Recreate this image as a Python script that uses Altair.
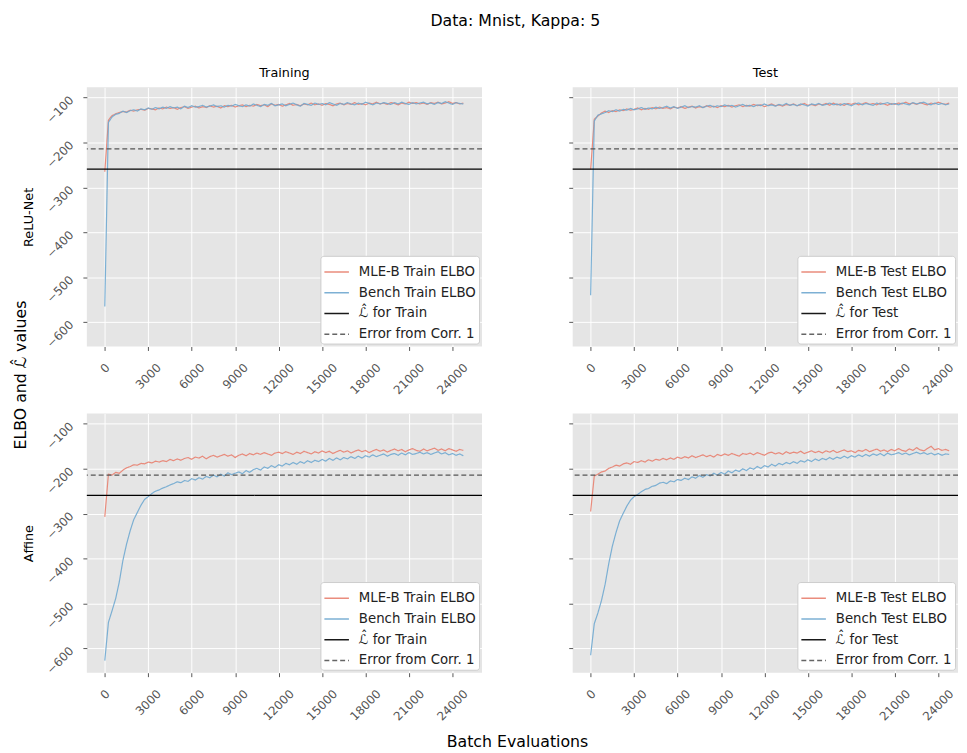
import altair as alt
import pandas as pd

# ---------------- data ----------------
batches = list(range(0, 25000, 250))  # evaluation points 0 .. 24750

relu_train_mle = [-265, -150, -140, -136, -133, -131, -132, -128, -130, -127,
                  -126, -128, -124, -125, -127, -123, -125, -121, -124, -122,
                  -126, -122, -120, -124, -121, -119, -123, -120, -122, -118,
                  -121, -119, -123, -118, -120, -117, -121, -118, -116, -120,
                  -117, -119, -115, -118, -116, -120, -114, -117, -115, -119,
                  -116, -113, -117, -115, -118, -114, -116, -112, -116, -114,
                  -117, -113, -115, -118, -114, -112, -116, -113, -115, -111,
                  -115, -113, -116, -112, -114, -110, -114, -112, -115, -111,
                  -113, -116, -112, -114, -110, -113, -111, -114, -112, -115,
                  -111, -113, -110, -114, -112, -109, -113, -111, -114, -112]
relu_train_bench = [-565, -155, -143, -137, -135, -130, -133, -129, -127, -130,
                    -125, -127, -123, -126, -122, -125, -121, -124, -120, -123,
                    -121, -125, -119, -122, -118, -121, -120, -117, -121, -119,
                    -116, -120, -118, -121, -117, -119, -115, -118, -120, -116,
                    -119, -114, -117, -120, -115, -117, -113, -118, -116, -114,
                    -118, -115, -112, -116, -119, -113, -115, -117, -112, -115,
                    -113, -116, -111, -114, -117, -113, -115, -111, -114, -116,
                    -112, -115, -110, -113, -116, -112, -114, -111, -113, -115,
                    -111, -114, -110, -113, -115, -111, -114, -112, -110, -114,
                    -112, -115, -111, -113, -109, -112, -115, -111, -113, -114]
relu_test_mle = [-260, -148, -141, -134, -130, -133, -129, -131, -127, -129,
                 -125, -128, -126, -123, -127, -124, -126, -122, -125, -121,
                 -124, -122, -125, -121, -123, -120, -124, -121, -119, -123,
                 -120, -122, -118, -121, -119, -122, -118, -120, -117, -121,
                 -118, -116, -120, -117, -119, -115, -118, -116, -120, -117,
                 -114, -118, -116, -119, -115, -117, -114, -118, -116, -113,
                 -117, -115, -118, -114, -116, -113, -117, -112, -116, -114,
                 -117, -113, -115, -112, -116, -114, -111, -115, -113, -116,
                 -112, -114, -117, -113, -115, -112, -114, -110, -114, -112,
                 -115, -111, -114, -116, -112, -114, -110, -113, -115, -112]
relu_test_bench = [-540, -152, -139, -136, -133, -129, -131, -127, -130, -126,
                   -128, -124, -127, -125, -122, -126, -123, -125, -121, -124,
                   -122, -119, -123, -120, -124, -121, -118, -122, -120, -121,
                   -118, -122, -119, -117, -121, -118, -120, -116, -119, -117,
                   -121, -118, -115, -119, -117, -120, -116, -118, -114, -118,
                   -116, -119, -115, -117, -113, -117, -115, -118, -114, -116,
                   -119, -114, -116, -113, -117, -115, -112, -116, -114, -117,
                   -113, -115, -118, -114, -112, -116, -113, -115, -117, -112,
                   -115, -113, -111, -115, -113, -116, -112, -114, -116, -111,
                   -114, -112, -110, -114, -116, -112, -115, -113, -116, -114]
affine_train_mle = [-307, -212, -214, -208, -210, -203, -198, -195, -191, -192,
                    -188, -189, -185, -187, -183, -185, -182, -184, -179, -182,
                    -178, -181, -177, -175, -179, -174, -176, -172, -178, -173,
                    -170, -174, -171, -168, -172, -169, -175, -170, -167, -171,
                    -166, -169, -165, -168, -164, -167, -170, -165, -163, -166,
                    -162, -165, -168, -163, -166, -161, -164, -167, -162, -165,
                    -160, -164, -161, -166, -162, -159, -163, -160, -165, -161,
                    -158, -162, -159, -164, -160, -157, -161, -158, -163, -159,
                    -156, -160, -157, -162, -158, -155, -159, -161, -156, -160,
                    -157, -154, -159, -156, -160, -155, -158, -161, -157, -159]
affine_train_bench = [-627, -542, -516, -489, -452, -404, -368, -338, -313, -297,
                      -281, -268, -262, -255, -250, -247, -243, -240, -236, -233,
                      -229, -231, -226, -228, -222, -225, -220, -223, -217, -220,
                      -214, -218, -212, -216, -209, -213, -210, -207, -211, -204,
                      -208, -202, -199, -203, -196, -199, -193, -197, -191, -194,
                      -188, -191, -186, -190, -184, -188, -182, -186, -181, -184,
                      -179, -183, -177, -181, -176, -180, -175, -178, -173, -177,
                      -172, -176, -171, -174, -169, -173, -170, -167, -172, -168,
                      -166, -170, -165, -169, -164, -168, -166, -163, -167, -164,
                      -168, -165, -162, -167, -164, -169, -166, -170, -167, -171]
affine_test_mle = [-295, -216, -212, -207, -205, -199, -196, -192, -194, -189,
                   -187, -190, -184, -186, -182, -185, -180, -183, -179, -181,
                   -177, -180, -176, -179, -174, -177, -173, -176, -171, -175,
                   -172, -169, -173, -170, -174, -168, -171, -167, -170, -166,
                   -169, -172, -166, -168, -165, -169, -164, -167, -170, -165,
                   -163, -167, -164, -168, -162, -166, -163, -165, -161, -166,
                   -163, -160, -164, -161, -165, -160, -163, -159, -164, -161,
                   -158, -162, -160, -164, -159, -161, -157, -162, -159, -156,
                   -161, -158, -162, -157, -160, -155, -159, -161, -156, -159,
                   -153, -158, -160, -155, -150, -158, -155, -159, -157, -160]
affine_test_bench = [-615, -545, -521, -493, -457, -411, -372, -342, -316, -299,
                     -283, -270, -262, -257, -251, -246, -244, -239, -237, -232,
                     -230, -233, -227, -229, -224, -226, -221, -224, -218, -221,
                     -215, -219, -213, -216, -210, -214, -208, -212, -205, -209,
                     -203, -206, -200, -204, -198, -201, -195, -199, -193, -196,
                     -190, -194, -188, -191, -186, -189, -184, -188, -182, -185,
                     -180, -184, -178, -182, -177, -180, -175, -179, -174, -177,
                     -172, -176, -171, -174, -169, -173, -168, -172, -167, -170,
                     -166, -171, -165, -169, -167, -164, -168, -165, -169, -166,
                     -163, -167, -164, -168, -165, -169, -166, -170, -167, -168]

l_hat_value = -259
corr_error_value = -214

x_ticks = [0, 3000, 6000, 9000, 12000, 15000, 18000, 21000, 24000]
y_ticks = [-600, -500, -400, -300, -200, -100]
y_domain = [-654, -77]
x_domain_left = [-1240, 26040]
x_domain_right = [-1240, 25359]

RED = "#E8806F"
BLUE = "#6FA8D0"
BLACK = "#000000"
DASH = "#555555"
FONT = "DejaVu Sans"

PW = 401
PW_RIGHT = 391
PH = 263


def panel(mle, bench, split, x_domain, width, title=None, row_label=None,
          show_ylabels=True, extra_text=None):
    names = [f"MLE-B {split} ELBO", f"Bench {split} ELBO",
             f"ℒ̂  for {split}", "Error from Corr. 1"]
    df = pd.DataFrame({
        "x": batches + batches,
        "value": mle + bench,
        "series": [names[0]] * len(batches) + [names[1]] * len(batches),
    })
    rules = pd.DataFrame({"value": [l_hat_value, corr_error_value],
                          "series": [names[2], names[3]]})
    color = alt.Color("series:N", scale=alt.Scale(domain=names,
                                                  range=[RED, BLUE, BLACK, DASH]),
                      legend=alt.Legend(title=None, orient="bottom-right"))
    dash = alt.StrokeDash("series:N",
                          scale=alt.Scale(domain=names,
                                          range=[[1, 0], [1, 0], [1, 0], [5, 3]]),
                          legend=alt.Legend(title=None, orient="bottom-right"))
    xenc = alt.X("x:Q", scale=alt.Scale(domain=x_domain, nice=False, zero=False),
                 axis=alt.Axis(values=x_ticks, title=None, format="d",
                               labelAngle=315, labelAlign="right",
                               labelBaseline="middle", labelPadding=15,
                               labelOffset=alt.ExprRef("length(datum.label)*2.6")))
    yaxis = alt.Axis(values=y_ticks, labels=show_ylabels, labelAngle=315,
                     labelAlign="right", labelBaseline="middle", labelPadding=12,
                     title=row_label if row_label else None, titlePadding=9)
    yenc = alt.Y("value:Q", scale=alt.Scale(domain=y_domain, nice=False, zero=False),
                 axis=yaxis)
    lines = alt.Chart(df).mark_line(strokeWidth=1.2, opacity=0.9).encode(
        x=xenc, y=yenc, color=color, strokeDash=dash, detail="series:N")
    hl = alt.Chart(rules).mark_rule(strokeWidth=1.3).encode(
        y=alt.Y("value:Q"), color=color, strokeDash=dash)
    layers = [lines, hl]
    if extra_text:
        for t in extra_text:
            layers.append(t)
    ch = alt.layer(*layers).properties(width=width, height=PH)
    if title:
        ch = ch.properties(title=alt.TitleParams(title, fontSize=13,
                                                 fontWeight="normal", offset=7,
                                                 font=FONT, color="black"))
    return ch


ylab = alt.Chart(pd.DataFrame({"t": ["ELBO and ℒ̂ values"]})).mark_text(
    angle=270, fontSize=16, font=FONT, color="black").encode(
    text="t:N", x=alt.value(-67), y=alt.value(292))
xlab = alt.Chart(pd.DataFrame({"t": ["Batch Evaluations"]})).mark_text(
    fontSize=16, font=FONT, color="black").encode(
    text="t:N", x=alt.value(437), y=alt.value(333))

tl = panel(relu_train_mle, relu_train_bench, "Train", x_domain_left, PW,
           title="Training", row_label="ReLU-Net", extra_text=[ylab])
tr = panel(relu_test_mle, relu_test_bench, "Test", x_domain_right, PW_RIGHT,
           title="Test", show_ylabels=False)
bl = panel(affine_train_mle, affine_train_bench, "Train", x_domain_left, PW,
           row_label="Affine", extra_text=[xlab])
br = panel(affine_test_mle, affine_test_bench, "Test", x_domain_right, PW_RIGHT,
           show_ylabels=False)

chart = alt.concat(tl, tr, bl, br, columns=2,
                   spacing=alt.RowColnumber(row=68, column=92),
                   bounds="flush").resolve_scale(
    color="independent", strokeDash="independent"
).properties(
    title=alt.TitleParams("Data: Mnist, Kappa: 5", fontSize=16, fontWeight="normal",
                          anchor="middle", dx=30, offset=39, font=FONT,
                          color="black"),
    padding={"left": 5, "top": 0, "right": 0, "bottom": 0},
).configure_view(fill="#E5E5E5", stroke=None).configure_axis(
    domain=False, grid=True, gridColor="white", gridWidth=1,
    tickColor="#555555", tickSize=4, labelColor="#555555", labelFontSize=12,
    labelFont=FONT, titleFont=FONT, titleFontSize=13, titleFontWeight="normal",
    titleColor="black"
).configure_legend(
    fillColor="white", strokeColor="#cccccc", cornerRadius=3, padding=3,
    labelFont=FONT, labelFontSize=13.5, labelColor="#222222", labelOffset=9,
    symbolType="stroke", symbolSize=620, symbolStrokeWidth=1.5,
    rowPadding=1, offset=3, labelLimit=300
)

chart.save("out.html", embed_options={"renderer": "svg", "actions": False})
